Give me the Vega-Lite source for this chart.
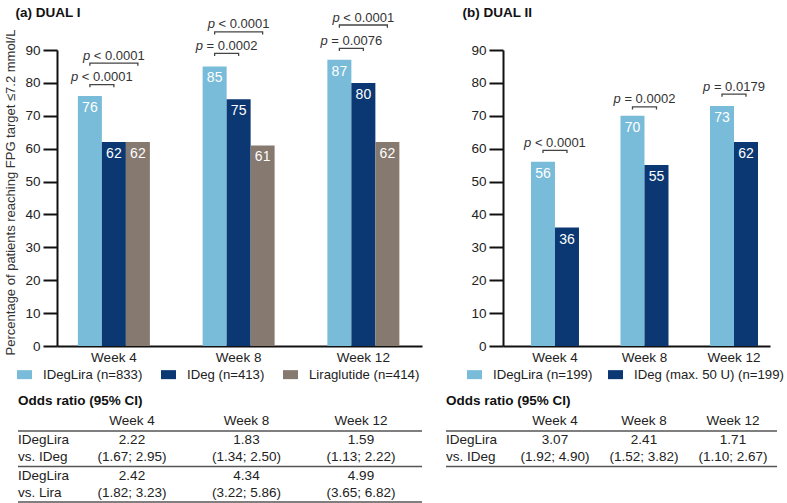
{
"$schema": "https://vega.github.io/schema/vega-lite/v6.json",
"width": 787,
"height": 503,
"padding": 0,
"autosize": {"type": "none"},
"config": {
  "font": "Liberation Sans",
  "view": {"stroke": null},
  "axis": {"labelFont": "Liberation Sans", "titleFont": "Liberation Sans", "labelColor": "#222", "domainColor": "#111", "tickColor": "#111", "domainWidth": 2, "tickWidth": 2, "grid": false, "labelFontSize": 13.5},
  "legend": {"labelFont": "Liberation Sans", "labelFontSize": 13.2, "labelColor": "#222"},
  "text": {"font": "Liberation Sans"}
},
"datasets": {
  "barsA": [
    {"week": "Week 4", "grp": "IDegLira (n=833)", "val": 76},
    {"week": "Week 4", "grp": "IDeg (n=413)", "val": 62},
    {"week": "Week 4", "grp": "Liraglutide (n=414)", "val": 62},
    {"week": "Week 8", "grp": "IDegLira (n=833)", "val": 85},
    {"week": "Week 8", "grp": "IDeg (n=413)", "val": 75},
    {"week": "Week 8", "grp": "Liraglutide (n=414)", "val": 61},
    {"week": "Week 12", "grp": "IDegLira (n=833)", "val": 87},
    {"week": "Week 12", "grp": "IDeg (n=413)", "val": 80},
    {"week": "Week 12", "grp": "Liraglutide (n=414)", "val": 62}
  ],
  "bracketsA": [
    {"id": "a1", "week": "Week 4", "grp": "IDegLira (n=833)", "val": 78.7, "ord": 0},
    {"id": "a1", "week": "Week 4", "grp": "IDegLira (n=833)", "val": 79.5, "ord": 1},
    {"id": "a1", "week": "Week 4", "grp": "IDeg (n=413)", "val": 79.5, "ord": 2},
    {"id": "a1", "week": "Week 4", "grp": "IDeg (n=413)", "val": 78.7, "ord": 3},
    {"id": "a2", "week": "Week 4", "grp": "IDegLira (n=833)", "val": 85.2, "ord": 0},
    {"id": "a2", "week": "Week 4", "grp": "IDegLira (n=833)", "val": 86.0, "ord": 1},
    {"id": "a2", "week": "Week 4", "grp": "Liraglutide (n=414)", "val": 86.0, "ord": 2},
    {"id": "a2", "week": "Week 4", "grp": "Liraglutide (n=414)", "val": 85.2, "ord": 3},
    {"id": "a3", "week": "Week 8", "grp": "IDegLira (n=833)", "val": 88.2, "ord": 0},
    {"id": "a3", "week": "Week 8", "grp": "IDegLira (n=833)", "val": 89.0, "ord": 1},
    {"id": "a3", "week": "Week 8", "grp": "IDeg (n=413)", "val": 89.0, "ord": 2},
    {"id": "a3", "week": "Week 8", "grp": "IDeg (n=413)", "val": 88.2, "ord": 3},
    {"id": "a4", "week": "Week 8", "grp": "IDegLira (n=833)", "val": 94.7, "ord": 0},
    {"id": "a4", "week": "Week 8", "grp": "IDegLira (n=833)", "val": 95.5, "ord": 1},
    {"id": "a4", "week": "Week 8", "grp": "Liraglutide (n=414)", "val": 95.5, "ord": 2},
    {"id": "a4", "week": "Week 8", "grp": "Liraglutide (n=414)", "val": 94.7, "ord": 3},
    {"id": "a5", "week": "Week 12", "grp": "IDegLira (n=833)", "val": 89.7, "ord": 0},
    {"id": "a5", "week": "Week 12", "grp": "IDegLira (n=833)", "val": 90.5, "ord": 1},
    {"id": "a5", "week": "Week 12", "grp": "IDeg (n=413)", "val": 90.5, "ord": 2},
    {"id": "a5", "week": "Week 12", "grp": "IDeg (n=413)", "val": 89.7, "ord": 3},
    {"id": "a6", "week": "Week 12", "grp": "IDegLira (n=833)", "val": 96.8, "ord": 0},
    {"id": "a6", "week": "Week 12", "grp": "IDegLira (n=833)", "val": 97.6, "ord": 1},
    {"id": "a6", "week": "Week 12", "grp": "Liraglutide (n=414)", "val": 97.6, "ord": 2},
    {"id": "a6", "week": "Week 12", "grp": "Liraglutide (n=414)", "val": 96.8, "ord": 3}
  ],
  "pA": [
    {"week": "Week 4", "pos": "lower", "rest": "< 0.0001", "val": 79.5},
    {"week": "Week 4", "pos": "upper", "rest": "< 0.0001", "val": 86.0},
    {"week": "Week 8", "pos": "lower", "rest": "= 0.0002", "val": 89.0},
    {"week": "Week 8", "pos": "upper", "rest": "< 0.0001", "val": 95.5},
    {"week": "Week 12", "pos": "lower", "rest": "= 0.0076", "val": 90.5},
    {"week": "Week 12", "pos": "upper", "rest": "< 0.0001", "val": 97.6}
  ],
  "barsB": [
    {"week": "Week 4", "grp": "IDegLira (n=199)", "val": 56},
    {"week": "Week 4", "grp": "IDeg (max. 50 U) (n=199)", "val": 36},
    {"week": "Week 8", "grp": "IDegLira (n=199)", "val": 70},
    {"week": "Week 8", "grp": "IDeg (max. 50 U) (n=199)", "val": 55},
    {"week": "Week 12", "grp": "IDegLira (n=199)", "val": 73},
    {"week": "Week 12", "grp": "IDeg (max. 50 U) (n=199)", "val": 62}
  ],
  "bracketsB": [
    {"id": "b1", "week": "Week 4", "grp": "IDegLira (n=199)", "val": 58.7, "ord": 0},
    {"id": "b1", "week": "Week 4", "grp": "IDegLira (n=199)", "val": 59.5, "ord": 1},
    {"id": "b1", "week": "Week 4", "grp": "IDeg (max. 50 U) (n=199)", "val": 59.5, "ord": 2},
    {"id": "b1", "week": "Week 4", "grp": "IDeg (max. 50 U) (n=199)", "val": 58.7, "ord": 3},
    {"id": "b2", "week": "Week 8", "grp": "IDegLira (n=199)", "val": 71.9, "ord": 0},
    {"id": "b2", "week": "Week 8", "grp": "IDegLira (n=199)", "val": 72.7, "ord": 1},
    {"id": "b2", "week": "Week 8", "grp": "IDeg (max. 50 U) (n=199)", "val": 72.7, "ord": 2},
    {"id": "b2", "week": "Week 8", "grp": "IDeg (max. 50 U) (n=199)", "val": 71.9, "ord": 3},
    {"id": "b3", "week": "Week 12", "grp": "IDegLira (n=199)", "val": 75.8, "ord": 0},
    {"id": "b3", "week": "Week 12", "grp": "IDegLira (n=199)", "val": 76.6, "ord": 1},
    {"id": "b3", "week": "Week 12", "grp": "IDeg (max. 50 U) (n=199)", "val": 76.6, "ord": 2},
    {"id": "b3", "week": "Week 12", "grp": "IDeg (max. 50 U) (n=199)", "val": 75.8, "ord": 3}
  ],
  "pB": [
    {"week": "Week 4", "rest": "< 0.0001", "val": 59.5},
    {"week": "Week 8", "rest": "= 0.0002", "val": 72.7},
    {"week": "Week 12", "rest": "= 0.0179", "val": 76.6}
  ],
  "tabA": [
    {"row": "h", "col": "Week 4", "t": "Week 4"},
    {"row": "h", "col": "Week 8", "t": "Week 8"},
    {"row": "h", "col": "Week 12", "t": "Week 12"},
    {"row": "r1", "col": "label", "t": "IDegLira\nvs. IDeg"},
    {"row": "r1", "col": "Week 4", "t": "2.22\n(1.67; 2.95)"},
    {"row": "r1", "col": "Week 8", "t": "1.83\n(1.34; 2.50)"},
    {"row": "r1", "col": "Week 12", "t": "1.59\n(1.13; 2.22)"},
    {"row": "r2", "col": "label", "t": "IDegLira\nvs. Lira"},
    {"row": "r2", "col": "Week 4", "t": "2.42\n(1.82; 3.23)"},
    {"row": "r2", "col": "Week 8", "t": "4.34\n(3.22; 5.86)"},
    {"row": "r2", "col": "Week 12", "t": "4.99\n(3.65; 6.82)"}
  ],
  "tabB": [
    {"row": "h", "col": "Week 4", "t": "Week 4"},
    {"row": "h", "col": "Week 8", "t": "Week 8"},
    {"row": "h", "col": "Week 12", "t": "Week 12"},
    {"row": "r1", "col": "label", "t": "IDegLira\nvs. IDeg"},
    {"row": "r1", "col": "Week 4", "t": "3.07\n(1.92; 4.90)"},
    {"row": "r1", "col": "Week 8", "t": "2.41\n(1.52; 3.82)"},
    {"row": "r1", "col": "Week 12", "t": "1.71\n(1.10; 2.67)"}
  ]
},
"resolve": {"scale": {"x": "independent", "y": "independent", "xOffset": "independent", "color": "independent"}, "axis": {"x": "independent", "y": "independent"}, "legend": {"color": "independent"}},
"layer": [
  {
    "layer": [
      {
        "data": {"name": "barsA"},
        "mark": {"type": "bar"},
        "encoding": {
          "x": {"field": "week", "type": "nominal", "scale": {"domain": ["Week 4", "Week 8", "Week 12"], "range": [57, 422], "paddingInner": 0.4228, "paddingOuter": 0.1744, "align": 0.48}, "axis": {"orient": "bottom", "offset": -157, "ticks": false, "labelPadding": 4, "labelAngle": 0, "title": "(a) DUAL I", "titleX": 15, "titleY": -334, "titleAlign": "left", "titleBaseline": "middle", "titleAngle": 0, "titleFontWeight": "bold", "titleFontSize": 13.5, "titleColor": "#111"}},
          "xOffset": {"field": "grp", "type": "nominal", "scale": {"domain": ["IDegLira (n=833)", "IDeg (n=413)", "Liraglutide (n=414)"], "paddingInner": 0, "paddingOuter": 0}},
          "y": {"field": "val", "type": "quantitative", "scale": {"domain": [0, 90], "range": [346, 50], "nice": false}, "axis": {"orient": "left", "offset": -57, "values": [0, 10, 20, 30, 40, 50, 60, 70, 80, 90], "tickSize": 14, "labelPadding": 3, "title": "Percentage of patients reaching FPG target ≤7.2 mmol/L", "titleX": -47, "titleY": 192, "titleAlign": "center", "titleBaseline": "middle", "titleAngle": -90, "titleFontSize": 13, "titleFontWeight": "normal", "titleColor": "#333"}},
          "color": {"field": "grp", "type": "nominal", "scale": {"domain": ["IDegLira (n=833)", "IDeg (n=413)", "Liraglutide (n=414)"], "range": ["#79bcd9", "#0b3872", "#86796f"]}, "legend": {"orient": "none", "legendX": 17, "legendY": 367, "direction": "horizontal", "title": null, "symbolType": "M-1,-0.6H1V0.6H-1Z", "symbolSize": 225, "symbolStrokeWidth": 0, "symbolOpacity": 1, "labelOffset": 11, "columnPadding": 18, "labelLimit": 400, "padding": 0}}
        }
      },
      {
        "data": {"name": "barsA"},
        "mark": {"type": "text", "baseline": "top", "dy": 5, "fill": "white", "fontSize": 14},
        "encoding": {
          "x": {"field": "week", "type": "nominal"},
          "xOffset": {"field": "grp", "type": "nominal"},
          "y": {"field": "val", "type": "quantitative"},
          "text": {"field": "val", "type": "quantitative"}
        }
      },
      {
        "data": {"name": "bracketsA"},
        "mark": {"type": "line", "color": "#444", "strokeWidth": 1.3},
        "encoding": {
          "x": {"field": "week", "type": "nominal"},
          "xOffset": {"field": "grp", "type": "nominal"},
          "y": {"field": "val", "type": "quantitative"},
          "detail": {"field": "id"},
          "order": {"field": "ord"}
        }
      },
      {
        "data": {"name": "pA"},
        "transform": [{"filter": "datum.pos === 'lower'"}],
        "mark": {"type": "text", "baseline": "alphabetic", "dy": -3.5, "fontSize": 13, "fill": "#333", "align": "right", "dx": -35.7, "fontStyle": "italic"},
        "encoding": {
          "x": {"field": "week", "type": "nominal"},
          "y": {"field": "val", "type": "quantitative"},
          "text": {"value": "p"}
        }
      },
      {
        "data": {"name": "pA"},
        "transform": [{"filter": "datum.pos === 'lower'"}],
        "mark": {"type": "text", "baseline": "alphabetic", "dy": -3.5, "fontSize": 13, "fill": "#333", "align": "left", "dx": -32.1},
        "encoding": {
          "x": {"field": "week", "type": "nominal"},
          "y": {"field": "val", "type": "quantitative"},
          "text": {"field": "rest"}
        }
      },
      {
        "data": {"name": "pA"},
        "transform": [{"filter": "datum.pos === 'upper'"}],
        "mark": {"type": "text", "baseline": "alphabetic", "dy": -3.5, "fontSize": 13, "fill": "#333", "align": "right", "dx": -23.7, "fontStyle": "italic"},
        "encoding": {
          "x": {"field": "week", "type": "nominal"},
          "y": {"field": "val", "type": "quantitative"},
          "text": {"value": "p"}
        }
      },
      {
        "data": {"name": "pA"},
        "transform": [{"filter": "datum.pos === 'upper'"}],
        "mark": {"type": "text", "baseline": "alphabetic", "dy": -3.5, "fontSize": 13, "fill": "#333", "align": "left", "dx": -20.1},
        "encoding": {
          "x": {"field": "week", "type": "nominal"},
          "y": {"field": "val", "type": "quantitative"},
          "text": {"field": "rest"}
        }
      }
    ]
  },
  {
    "layer": [
      {
        "data": {"name": "barsB"},
        "mark": {"type": "bar"},
        "encoding": {
          "x": {"field": "week", "type": "nominal", "scale": {"domain": ["Week 4", "Week 8", "Week 12"], "range": [503, 770], "paddingInner": 0.4637, "paddingOuter": 0.2233, "align": 0.7}, "axis": {"orient": "bottom", "offset": -157, "ticks": false, "labelPadding": 4, "labelAngle": 0, "title": "(b) DUAL II", "titleX": 462, "titleY": -334, "titleAlign": "left", "titleBaseline": "middle", "titleAngle": 0, "titleFontWeight": "bold", "titleFontSize": 13.5, "titleColor": "#111"}},
          "xOffset": {"field": "grp", "type": "nominal", "scale": {"domain": ["IDegLira (n=199)", "IDeg (max. 50 U) (n=199)"], "paddingInner": 0, "paddingOuter": 0}},
          "y": {"field": "val", "type": "quantitative", "scale": {"domain": [0, 90], "range": [346, 50], "nice": false}, "axis": {"orient": "left", "offset": -503, "values": [0, 10, 20, 30, 40, 50, 60, 70, 80, 90], "tickSize": 14, "labelPadding": 3, "title": null}},
          "color": {"field": "grp", "type": "nominal", "scale": {"domain": ["IDegLira (n=199)", "IDeg (max. 50 U) (n=199)"], "range": ["#79bcd9", "#0b3872"]}, "legend": {"orient": "none", "legendX": 467, "legendY": 367, "direction": "horizontal", "title": null, "symbolType": "M-1,-0.6H1V0.6H-1Z", "symbolSize": 225, "symbolStrokeWidth": 0, "symbolOpacity": 1, "labelOffset": 11, "columnPadding": 15, "labelLimit": 400, "padding": 0}}
        }
      },
      {
        "data": {"name": "barsB"},
        "mark": {"type": "text", "baseline": "top", "dy": 5, "fill": "white", "fontSize": 14},
        "encoding": {
          "x": {"field": "week", "type": "nominal"},
          "xOffset": {"field": "grp", "type": "nominal"},
          "y": {"field": "val", "type": "quantitative"},
          "text": {"field": "val", "type": "quantitative"}
        }
      },
      {
        "data": {"name": "bracketsB"},
        "mark": {"type": "line", "color": "#444", "strokeWidth": 1.3},
        "encoding": {
          "x": {"field": "week", "type": "nominal"},
          "xOffset": {"field": "grp", "type": "nominal"},
          "y": {"field": "val", "type": "quantitative"},
          "detail": {"field": "id"},
          "order": {"field": "ord"}
        }
      },
      {
        "data": {"name": "pB"},
        "mark": {"type": "text", "baseline": "alphabetic", "dy": -3.5, "fontSize": 13, "fill": "#333", "align": "right", "dx": -23.7, "fontStyle": "italic"},
        "encoding": {
          "x": {"field": "week", "type": "nominal"},
          "y": {"field": "val", "type": "quantitative"},
          "text": {"value": "p"}
        }
      },
      {
        "data": {"name": "pB"},
        "mark": {"type": "text", "baseline": "alphabetic", "dy": -3.5, "fontSize": 13, "fill": "#333", "align": "left", "dx": -20.1},
        "encoding": {
          "x": {"field": "week", "type": "nominal"},
          "y": {"field": "val", "type": "quantitative"},
          "text": {"field": "rest"}
        }
      }
    ]
  },
  {
    "data": {"name": "tabA"},
    "resolve": {"scale": {"x": "independent", "y": "independent"}},
    "layer": [
      {
        "transform": [{"filter": "datum.row !== 'h' && datum.col !== 'label'"}],
        "mark": {"type": "text", "lineBreak": "\n", "lineHeight": 17, "baseline": "middle", "dy": -8.5, "align": "center", "fontSize": 13.5, "fill": "#222"},
        "encoding": {
          "x": {"field": "col", "type": "nominal", "scale": {"type": "point", "domain": ["Week 4", "Week 8", "Week 12"], "range": [132, 361], "padding": 0}, "axis": null},
          "y": {"field": "row", "type": "nominal", "scale": {"type": "band", "domain": ["h", "r1", "r2"], "range": [395.5, 502], "paddingInner": 0, "paddingOuter": 0}, "axis": null},
          "text": {"field": "t", "type": "nominal"}
        }
      },
      {
        "transform": [{"filter": "datum.row === 'h'"}],
        "mark": {"type": "text", "baseline": "middle", "align": "center", "fontSize": 13.5, "fill": "#222"},
        "encoding": {
          "x": {"field": "col", "type": "nominal", "scale": {"type": "point", "domain": ["Week 4", "Week 8", "Week 12"], "range": [132, 361], "padding": 0}, "axis": null},
          "y": {"field": "row", "type": "nominal", "scale": {"type": "band", "domain": ["h", "r1", "r2"], "range": [395.5, 502], "paddingInner": 0, "paddingOuter": 0}, "axis": null, "bandPosition": 0.718},
          "text": {"field": "t", "type": "nominal"}
        }
      },
      {
        "transform": [{"filter": "datum.col === 'label'"}],
        "mark": {"type": "text", "lineBreak": "\n", "lineHeight": 17, "baseline": "middle", "dy": -8.5, "align": "left", "fontSize": 13.5, "fill": "#222"},
        "encoding": {
          "x": {"field": "col", "type": "nominal", "scale": {"type": "point", "domain": ["label"], "range": [18, 422], "padding": 0, "align": 0}, "axis": null},
          "y": {"field": "row", "type": "nominal", "scale": {"type": "band", "domain": ["h", "r1", "r2"], "range": [395.5, 502], "paddingInner": 0, "paddingOuter": 0}, "axis": null},
          "text": {"field": "t", "type": "nominal"}
        }
      },
      {
        "data": {"values": [{"t": "Odds ratio (95% CI)"}]},
        "mark": {"type": "text", "baseline": "middle", "align": "left", "fontSize": 13.5, "fontWeight": "bold", "fill": "#111"},
        "encoding": {
          "x": {"datum": "label", "type": "nominal", "scale": {"type": "point", "domain": ["label"], "range": [18, 422], "padding": 0, "align": 0}, "axis": null},
          "y": {"datum": "h", "type": "nominal", "scale": {"type": "band", "domain": ["h", "r1", "r2"], "range": [395.5, 502], "paddingInner": 0, "paddingOuter": 0}, "axis": null, "bandPosition": 0.155},
          "text": {"field": "t", "type": "nominal"}
        }
      },
      {
        "data": {"values": [{"row": "h"}, {"row": "r1"}, {"row": "r2"}]},
        "mark": {"type": "rule", "stroke": "#555", "strokeWidth": 1.5},
        "encoding": {
          "x": {"datum": "start", "type": "nominal", "scale": {"type": "point", "domain": ["start", "end"], "range": [18, 422], "padding": 0}, "axis": null},
          "x2": {"datum": "end"},
          "y": {"field": "row", "type": "nominal", "scale": {"type": "point", "domain": ["h", "r1", "r2"], "range": [431, 502], "padding": 0}, "axis": null}
        }
      }
    ]
  },
  {
    "data": {"name": "tabB"},
    "resolve": {"scale": {"x": "independent", "y": "independent"}},
    "layer": [
      {
        "transform": [{"filter": "datum.row !== 'h' && datum.col !== 'label'"}],
        "mark": {"type": "text", "lineBreak": "\n", "lineHeight": 17, "baseline": "middle", "dy": -8.5, "align": "center", "fontSize": 13.5, "fill": "#222"},
        "encoding": {
          "x": {"field": "col", "type": "nominal", "scale": {"type": "point", "domain": ["Week 4", "Week 8", "Week 12"], "range": [555, 733], "padding": 0}, "axis": null},
          "y": {"field": "row", "type": "nominal", "scale": {"type": "band", "domain": ["h", "r1"], "range": [395.5, 466.5], "paddingInner": 0, "paddingOuter": 0}, "axis": null},
          "text": {"field": "t", "type": "nominal"}
        }
      },
      {
        "transform": [{"filter": "datum.row === 'h'"}],
        "mark": {"type": "text", "baseline": "middle", "align": "center", "fontSize": 13.5, "fill": "#222"},
        "encoding": {
          "x": {"field": "col", "type": "nominal", "scale": {"type": "point", "domain": ["Week 4", "Week 8", "Week 12"], "range": [555, 733], "padding": 0}, "axis": null},
          "y": {"field": "row", "type": "nominal", "scale": {"type": "band", "domain": ["h", "r1"], "range": [395.5, 466.5], "paddingInner": 0, "paddingOuter": 0}, "axis": null, "bandPosition": 0.718},
          "text": {"field": "t", "type": "nominal"}
        }
      },
      {
        "transform": [{"filter": "datum.col === 'label'"}],
        "mark": {"type": "text", "lineBreak": "\n", "lineHeight": 17, "baseline": "middle", "dy": -8.5, "align": "left", "fontSize": 13.5, "fill": "#222"},
        "encoding": {
          "x": {"field": "col", "type": "nominal", "scale": {"type": "point", "domain": ["label"], "range": [446, 777], "padding": 0, "align": 0}, "axis": null},
          "y": {"field": "row", "type": "nominal", "scale": {"type": "band", "domain": ["h", "r1"], "range": [395.5, 466.5], "paddingInner": 0, "paddingOuter": 0}, "axis": null},
          "text": {"field": "t", "type": "nominal"}
        }
      },
      {
        "data": {"values": [{"t": "Odds ratio (95% CI)"}]},
        "mark": {"type": "text", "baseline": "middle", "align": "left", "fontSize": 13.5, "fontWeight": "bold", "fill": "#111"},
        "encoding": {
          "x": {"datum": "label", "type": "nominal", "scale": {"type": "point", "domain": ["label"], "range": [446, 777], "padding": 0, "align": 0}, "axis": null},
          "y": {"datum": "h", "type": "nominal", "scale": {"type": "band", "domain": ["h", "r1"], "range": [395.5, 466.5], "paddingInner": 0, "paddingOuter": 0}, "axis": null, "bandPosition": 0.155},
          "text": {"field": "t", "type": "nominal"}
        }
      },
      {
        "data": {"values": [{"row": "h"}, {"row": "r1"}]},
        "mark": {"type": "rule", "stroke": "#555", "strokeWidth": 1.5},
        "encoding": {
          "x": {"datum": "start", "type": "nominal", "scale": {"type": "point", "domain": ["start", "end"], "range": [446, 777], "padding": 0}, "axis": null},
          "x2": {"datum": "end"},
          "y": {"field": "row", "type": "nominal", "scale": {"type": "point", "domain": ["h", "r1"], "range": [431, 466.5], "padding": 0}, "axis": null}
        }
      }
    ]
  }
]
}
